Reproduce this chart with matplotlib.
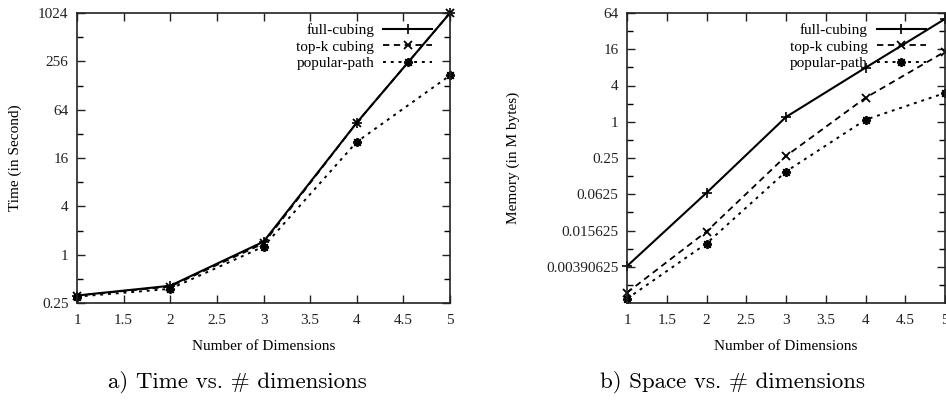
import matplotlib
matplotlib.use("Agg")
import matplotlib.pyplot as plt
from matplotlib.ticker import FixedLocator, FixedFormatter, NullFormatter

# Number of dimensions
dims = [1, 2, 3, 4, 5]

# Runtime in seconds
time_full = [0.31, 0.41, 1.45, 44, 1024]
time_topk = [0.31, 0.40, 1.38, 44, 1024]
time_popular = [0.30, 0.375, 1.26, 25.4, 171]

# Memory in MB
mem_full = [0.0040, 0.066, 1.2, 7.9, 51]
mem_topk = [0.00145, 0.015, 0.27, 2.5, 14.6]
mem_popular = [0.00115, 0.0095, 0.149, 1.08, 3.0]

series_labels = ["full-cubing", "top-k cubing", "popular-path"]

time_yticks = [0.25, 1, 4, 16, 64, 256, 1024]
time_yticklabels = ["0.25", "1", "4", "16", "64", "256", "1024"]
time_yminor = [0.5, 2, 8, 32, 128, 512]

mem_yticks = [0.00390625, 0.015625, 0.0625, 0.25, 1, 4, 16, 64]
mem_yticklabels = ["0.00390625", "0.015625", "0.0625", "0.25", "1", "4", "16", "64"]
mem_yminor = [2 ** -9, 2 ** -7, 2 ** -5, 2 ** -3, 0.5, 2, 8, 32]

xticks = [1, 1.5, 2, 2.5, 3, 3.5, 4, 4.5, 5]
xticklabels = ["1", "1.5", "2", "2.5", "3", "3.5", "4", "4.5", "5"]

SERIF = "Liberation Serif"
plt.rcParams["font.family"] = SERIF

fig = plt.figure(figsize=(9.46, 4.0), dpi=100)
ax1 = fig.add_axes([77 / 946, 97 / 400, 373 / 946, 290 / 400])
ax2 = fig.add_axes([627 / 946, 97 / 400, 318 / 946, 290 / 400])

styles = [
    dict(ls="-", marker="+", ms=7, mew=1.2, lw=1.5),
    dict(ls=(0, (3.5, 2.5)), marker="x", ms=6, mew=1.3, lw=1.3),
    dict(ls=(0, (1.5, 2.5)), marker=(8, 2, 0), ms=6.5, mew=1.3, lw=1.4),
]


def style_axes(ax, ylim, yticks, yticklabels, yminor, ylabel, ylabelpad):
    ax.set_yscale("log", base=2)
    ax.set_xlim(1, 5)
    ax.set_ylim(*ylim)
    ax.xaxis.set_major_locator(FixedLocator(xticks))
    ax.xaxis.set_major_formatter(FixedFormatter(xticklabels))
    ax.yaxis.set_major_locator(FixedLocator(yticks))
    ax.yaxis.set_major_formatter(FixedFormatter(yticklabels))
    ax.yaxis.set_minor_locator(FixedLocator(yminor))
    ax.yaxis.set_minor_formatter(NullFormatter())
    ax.tick_params(axis="both", which="major", direction="in", length=6, width=1.0,
                   top=True, right=True, labelsize=11, colors="#222222")
    ax.tick_params(axis="y", which="major", pad=6)
    ax.tick_params(axis="x", which="major", pad=8)
    ax.tick_params(axis="y", which="minor", direction="in", length=4, width=1.0,
                   right=True, left=True)
    for s in ax.spines.values():
        s.set_linewidth(1.2)
        s.set_color("#222222")
    ax.set_xlabel("Number of Dimensions", fontsize=11, labelpad=9)
    ax.set_ylabel(ylabel, fontsize=11, labelpad=ylabelpad)


for vals, lab, st in zip([time_full, time_topk, time_popular], series_labels, styles):
    ax1.plot(dims, vals, color="black", label=lab, clip_on=False, **st)
for vals, lab, st in zip([mem_full, mem_topk, mem_popular], series_labels, styles):
    ax2.plot(dims, vals, color="black", label=lab, clip_on=False, **st)

style_axes(ax1, (0.25, 1024), time_yticks, time_yticklabels, time_yminor,
           "Time (in Second)", 12)
style_axes(ax2, (2 ** -10, 64), mem_yticks, mem_yticklabels, mem_yminor,
           "Memory (in M bytes)", 19)

for ax, anchor in [(ax1, (0.952, 0.965)), (ax2, (0.94, 0.965))]:
    ax.legend(loc="upper right", bbox_to_anchor=anchor, frameon=False, markerfirst=False,
              fontsize=11, handlelength=3.2, handletextpad=0.6, labelspacing=0.2,
              borderpad=0, borderaxespad=0)

fig.text(237 / 946, 1 - 382 / 400, "a) Time vs. # dimensions", fontname="cmr10",
         fontsize=16.5, ha="center", va="center")
fig.text(732 / 946, 1 - 382 / 400, "b) Space vs. # dimensions", fontname="cmr10",
         fontsize=16.5, ha="center", va="center")

fig.savefig("out.png", dpi=100)
